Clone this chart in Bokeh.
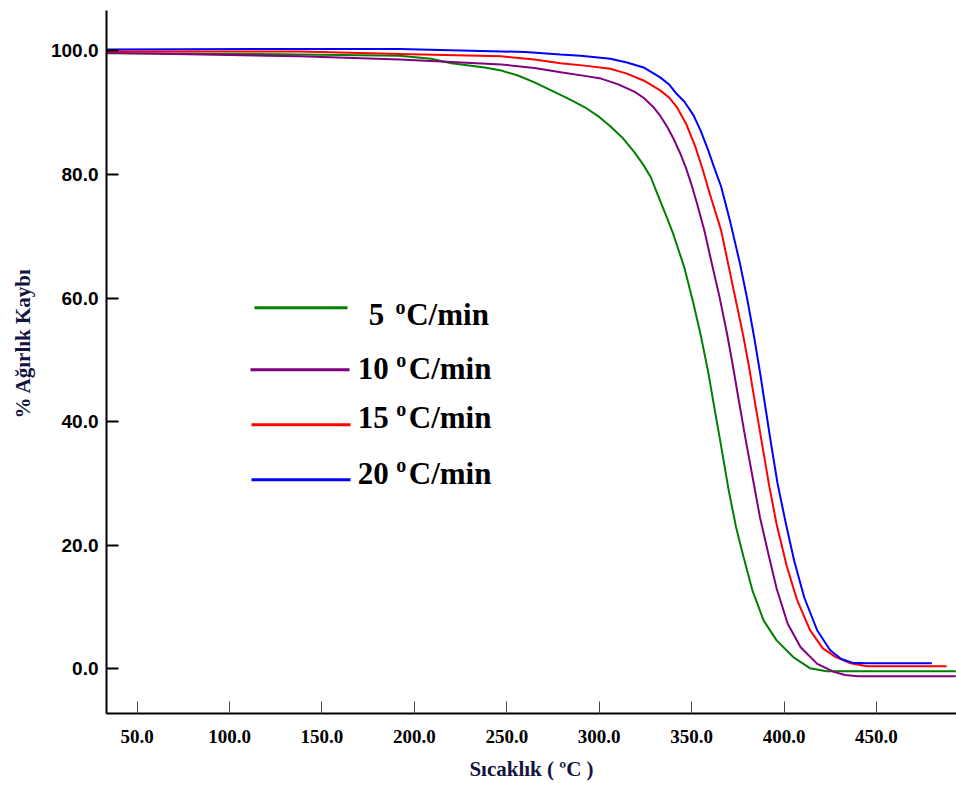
from bokeh.plotting import figure
from bokeh.models import FixedTicker, PrintfTickFormatter, Label, Range1d, Title
from bokeh.embed import file_html
from bokeh.resources import INLINE

# ---------------- data ----------------
t_5 = [33.5, 100, 138, 192, 209, 220, 238, 247, 256, 265, 274, 283, 292, 300, 306, 313, 319,
       324, 328, 331, 336, 340, 346, 351, 355, 359, 362, 366, 370, 374, 378, 383, 389, 396,
       405, 414, 423, 493]
w_5 = [99.6, 99.5, 99.4, 99.2, 98.7, 98.0, 97.3, 96.8, 96.0, 94.9, 93.6, 92.3, 90.9, 89.3,
       87.8, 85.8, 83.6, 81.5, 79.5, 77.2, 73.5, 70.4, 65.0, 59.1, 53.9, 48.0, 42.8, 36.0,
       29.0, 23.0, 18.2, 12.6, 7.8, 4.6, 1.9, 0.1, -0.4, -0.4]

t_10 = [33.5, 138, 192, 220, 247, 265, 280, 293, 301, 310, 319, 324, 329, 333, 337, 340, 344,
        347, 350, 353, 357, 361, 365, 369, 372, 375.5, 379, 383, 387, 392, 396, 402, 409, 418,
        427, 433, 440, 493]
w_10 = [99.7, 99.1, 98.6, 98.2, 97.8, 97.2, 96.5, 95.9, 95.5, 94.6, 93.4, 92.4, 91.0, 89.5,
        87.6, 85.9, 83.3, 81.0, 78.3, 75.2, 70.8, 65.5, 60.3, 54.5, 49.6, 43.5, 37.5, 31.0,
        24.5, 18.0, 13.0, 7.3, 3.5, 0.8, -0.5, -1.0, -1.2, -1.2]

t_15 = [33.5, 138, 192, 247, 265, 279, 292, 306, 315, 324, 333, 338, 342, 347, 352, 356, 360,
        366, 370, 374.5, 378, 381, 384, 388, 392, 396, 401.5, 407, 414, 421, 428, 436, 445, 488]
w_15 = [99.9, 99.9, 99.5, 99.1, 98.6, 98.0, 97.6, 97.1, 96.3, 95.2, 93.6, 92.4, 90.9, 88.2,
        84.5, 80.8, 76.7, 70.9, 65.2, 58.8, 53.8, 49.0, 43.6, 36.6, 29.6, 23.4, 16.6, 11.2,
        6.3, 3.3, 1.9, 0.9, 0.4, 0.4]

t_20 = [33.5, 138, 192, 247, 260, 279, 290, 306, 315, 324, 333, 338, 342, 346, 351, 355, 359,
        362, 366, 371, 376, 380, 384, 387, 390, 393, 396.5, 401, 405.5, 411, 418, 425, 431,
        437, 445, 480]
w_20 = [100.2, 100.3, 100.3, 99.9, 99.8, 99.4, 99.2, 98.7, 98.1, 97.3, 95.7, 94.5, 93.0, 91.8,
        89.6, 87.0, 83.9, 81.3, 78.0, 72.2, 65.8, 60.0, 53.4, 48.0, 42.2, 36.4, 30.0, 23.5,
        17.5, 11.5, 6.2, 3.0, 1.6, 1.0, 0.9, 0.9]

series_names = ["5", "10", "15", "20"]
x_ticks = [50, 100, 150, 200, 250, 300, 350, 400, 450]
y_ticks = [0, 20, 40, 60, 80, 100]

# ---------------- layout ----------------
W, H = 956, 785
L, R, T, B = 106, 956, 10, 713
X0, X1 = 33.39, 493.34
Y0, Y1 = -7.23, 106.52


def sx(px):
    return X0 + (px - L) * (X1 - X0) / (R - L)


def sy(py):
    return Y1 - (py - T) * (Y1 - Y0) / (B - T)


p = figure(width=W, height=H, output_backend="svg", toolbar_location=None,
           x_range=Range1d(X0, X1), y_range=Range1d(Y0, Y1),
           min_border_left=L, min_border_right=W - R, min_border_top=T,
           min_border_bottom=H - B)
p.outline_line_color = None
p.grid.visible = False
p.background_fill_color = "white"
p.border_fill_color = "white"

xa = p.xaxis[0]
xa.ticker = FixedTicker(ticks=x_ticks)
xa.formatter = PrintfTickFormatter(format="%.1f")
xa.major_tick_in = 12
xa.major_tick_out = 0
xa.minor_tick_in = 0
xa.minor_tick_out = 0
xa.axis_line_width = 2
xa.axis_line_color = "black"
xa.major_tick_line_color = "#444444"
xa.major_tick_line_width = 1
xa.major_label_text_font = "Liberation Serif"
xa.major_label_text_font_style = "bold"
xa.major_label_text_font_size = "19px"
xa.major_label_text_color = "black"
xa.major_label_standoff = 16
xa.axis_label = "Sıcaklık ( ºC )"
xa.axis_label_text_font = "Liberation Serif"
xa.axis_label_text_font_style = "bold"
xa.axis_label_text_font_size = "21px"
xa.axis_label_text_color = "#141440"
xa.axis_label_standoff = 11

ya = p.yaxis[0]
ya.ticker = FixedTicker(ticks=y_ticks)
ya.formatter = PrintfTickFormatter(format="%.1f")
ya.major_tick_in = 12
ya.major_tick_out = 0
ya.minor_tick_in = 0
ya.minor_tick_out = 0
ya.axis_line_width = 2
ya.axis_line_color = "black"
ya.major_tick_line_color = "black"
ya.major_tick_line_width = 2
ya.major_label_text_font = "Liberation Sans"
ya.major_label_text_font_style = "bold"
ya.major_label_text_font_size = "19px"
ya.major_label_text_color = "black"
ya.major_label_standoff = 8

ytitle = Title(text="% Ağırlık Kaybı", align="left", offset=295, standoff=21,
               vertical_align="top",
               text_font="Liberation Serif", text_font_style="bold",
               text_font_size="21px", text_color="#141440")
p.add_layout(ytitle, "left")

colors = ["#008000", "#800080", "#ff0000", "#0000ff"]
ts = [t_5, t_10, t_15, t_20]
ws = [w_5, w_10, w_15, w_20]
for t, w, c in zip(ts, ws, colors):
    p.line(t, w, line_color=c, line_width=2)

# ---------------- custom legend ----------------
leg_line = [(254, 347, 307.3), (250, 349, 369.3), (251, 350, 424.3), (251, 350, 479.3)]
leg_num_x = [368.3, 357.3, 357.3, 357.3]
leg_o_x = [395.0, 395.7, 395.7, 395.7]
leg_c_x = [405.7, 408.3, 408.3, 408.3]
leg_base = [314.0, 368.3, 417.3, 473.0]
leg_o_base = [306.0, 359.3, 408.3, 464.3]

for i, name in enumerate(series_names):
    x_a, x_b, yy = leg_line[i]
    p.line([sx(x_a), sx(x_b)], [sy(yy), sy(yy)], line_color=colors[i], line_width=3)
    common = dict(x_units="data", y_units="data", text_font="Liberation Serif",
                  text_font_style="bold", text_color="black",
                  text_align="left", text_baseline="alphabetic")
    p.add_layout(Label(x=sx(leg_num_x[i]), y=sy(leg_base[i]), text=name,
                       text_font_size="31px", **common))
    p.add_layout(Label(x=sx(leg_o_x[i]), y=sy(leg_o_base[i]), text="o",
                       text_font_size="20px", **common))
    p.add_layout(Label(x=sx(leg_c_x[i]), y=sy(leg_base[i]), text="C/min",
                       text_font_size="31px", **common))

open("out.html", "w").write(file_html(p, INLINE))
